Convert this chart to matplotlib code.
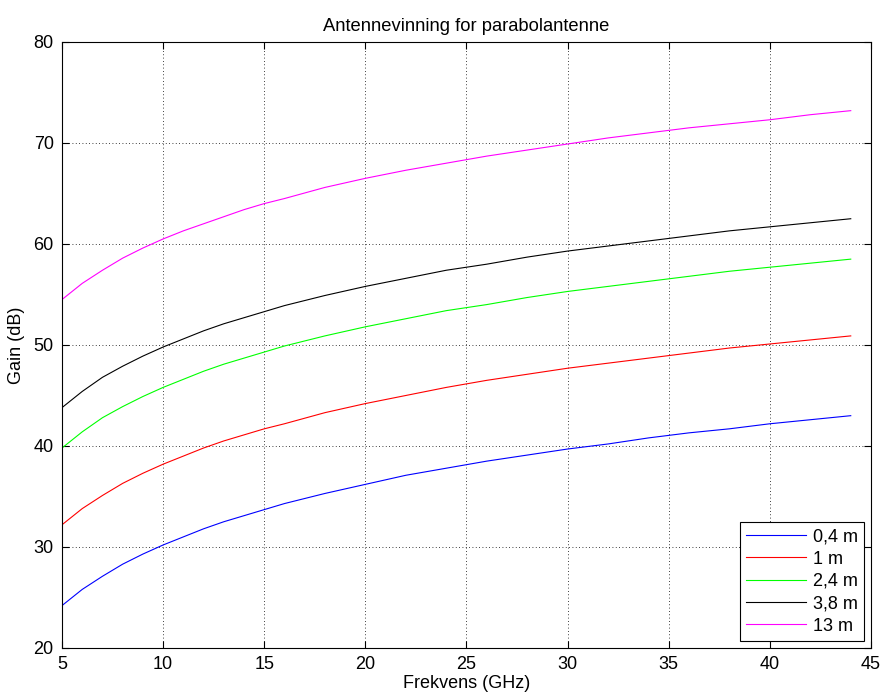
import matplotlib
matplotlib.use("Agg")
import matplotlib.pyplot as plt

plt.rcParams['font.family'] = ['Liberation Sans', 'DejaVu Sans']

# frequency samples (GHz)
freq = [5, 6, 7, 8, 9, 10, 11, 12, 13, 14, 15, 16, 18, 20, 22, 24, 26, 28,
        30, 32, 34, 36, 38, 40, 42, 44]

# gain (dB), one list per dish diameter
g_04 = [24.2, 25.8, 27.1, 28.3, 29.3, 30.2, 31.0, 31.8, 32.5, 33.1, 33.7,
        34.3, 35.3, 36.2, 37.1, 37.8, 38.5, 39.1, 39.7, 40.2, 40.8, 41.3,
        41.7, 42.2, 42.6, 43.0]
g_1 = [32.2, 33.8, 35.1, 36.3, 37.3, 38.2, 39.0, 39.8, 40.5, 41.1, 41.7,
       42.2, 43.3, 44.2, 45.0, 45.8, 46.5, 47.1, 47.7, 48.2, 48.7, 49.2,
       49.7, 50.1, 50.5, 50.9]
g_24 = [39.8, 41.4, 42.8, 43.9, 44.9, 45.8, 46.6, 47.4, 48.1, 48.7, 49.3,
        49.9, 50.9, 51.8, 52.6, 53.4, 54.0, 54.7, 55.3, 55.8, 56.3, 56.8,
        57.3, 57.7, 58.1, 58.5]
g_38 = [43.8, 45.4, 46.8, 47.9, 48.9, 49.8, 50.6, 51.4, 52.1, 52.7, 53.3,
        53.9, 54.9, 55.8, 56.6, 57.4, 58.0, 58.7, 59.3, 59.8, 60.3, 60.8,
        61.3, 61.7, 62.1, 62.5]
g_13 = [54.5, 56.1, 57.4, 58.6, 59.6, 60.5, 61.3, 62.0, 62.7, 63.4, 64.0,
        64.5, 65.6, 66.5, 67.3, 68.0, 68.7, 69.3, 69.9, 70.5, 71.0, 71.5,
        71.9, 72.3, 72.8, 73.2]

labels = ['0,4 m', '1 m', '2,4 m', '3,8 m', '13 m']
colors = ['#0000ff', '#ff0000', '#00ff00', '#000000', '#ff00ff']

fig = plt.figure(figsize=(8.82, 6.94), dpi=100)
ax = fig.add_axes([0.0703, 0.0663, 0.9172, 0.8732])

for g, lab, c in zip([g_04, g_1, g_24, g_38, g_13], labels, colors):
    ax.plot(freq, g, color=c, lw=0.8, label=lab)

ax.set_xlim(5, 45)
ax.set_ylim(20, 80)
ax.set_xticks(range(5, 46, 5))
ax.set_yticks(range(20, 81, 10))
ax.grid(True, color='black', linestyle=(0, (1, 3)), linewidth=0.6)
ax.tick_params(direction='in', top=True, right=True, labelsize=13, length=5, pad=6)
for s in ax.spines.values():
    s.set_linewidth(0.8)

ax.set_title('Antennevinning for parabolantenne', fontsize=13.2, pad=8)
ax.set_xlabel('Frekvens (GHz)', fontsize=13, labelpad=1)
ax.set_ylabel('Gain (dB)', fontsize=13, labelpad=6)

leg = ax.legend(loc='lower right', fontsize=13, fancybox=False, framealpha=1,
                edgecolor='black', borderaxespad=0.38, handlelength=3.3,
                handletextpad=0.4, labelspacing=0.3, borderpad=0.35)
leg.get_frame().set_linewidth(0.8)

fig.savefig('out.png', dpi=100)
